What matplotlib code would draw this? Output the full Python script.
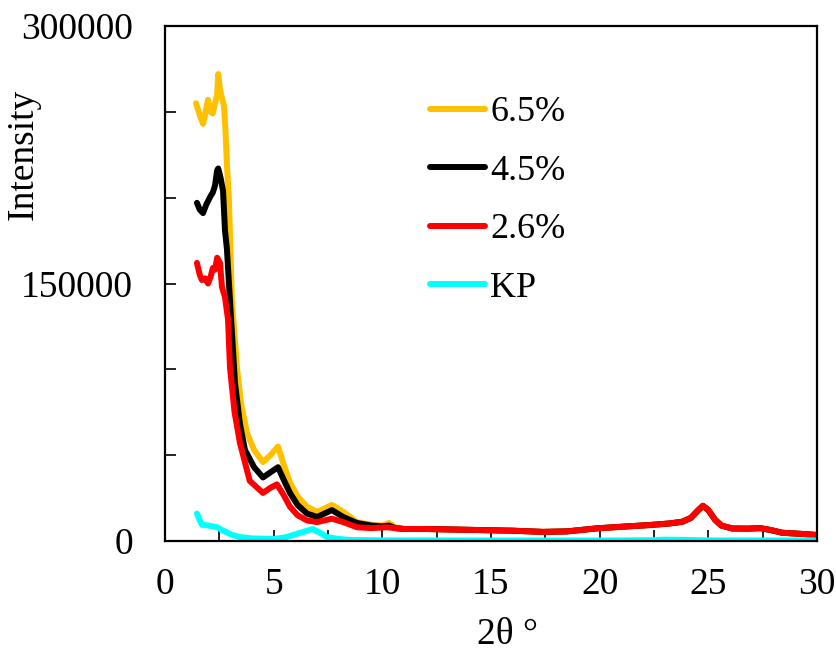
import numpy as np
import matplotlib.pyplot as plt
from matplotlib.ticker import MultipleLocator

# shared tail (x >= 11), all three coated samples overlap here
tail_x = [11, 12, 14, 16, 17.4, 18.5, 19.9, 21, 22.3, 23.2, 23.8, 24.2, 24.5, 24.75, 25.0, 25.3, 25.6, 26.1, 26.8, 27.4, 27.9, 28.4, 29.2, 30]
tail_y = [7, 7, 6.5, 6, 5.3, 5.6, 7.4, 8.3, 9.3, 10.2, 11.2, 13.5, 17.5, 20.5, 18, 12.5, 9, 7.3, 7.2, 7.5, 6.3, 4.8, 4.2, 3.5]

x65 = [1.43, 1.6, 1.75, 1.9, 1.98, 2.1, 2.2, 2.3, 2.4, 2.45, 2.53, 2.62, 2.71, 2.78, 2.85, 2.94, 3.08, 3.31, 3.5, 3.77, 4.1, 4.51, 4.85, 5.2, 5.45, 5.75, 6.1, 6.53, 7.0, 7.68, 8.2, 8.83, 9.5, 10.0, 10.3, 10.6]
y65 = [255, 248, 243, 252, 257, 250, 249, 255, 260, 272, 263, 258, 254, 240, 219, 199, 140, 101, 80, 63, 53, 46, 50, 55, 45, 34, 26, 20, 17, 21, 17, 11, 9.5, 9, 10.5, 8]

x45 = [1.47, 1.6, 1.75, 1.9, 1.98, 2.1, 2.2, 2.3, 2.4, 2.45, 2.55, 2.67, 2.76, 2.85, 2.99, 3.22, 3.45, 3.68, 4.1, 4.51, 4.85, 5.2, 5.45, 5.75, 6.1, 6.53, 7.0, 7.68, 8.2, 8.83, 9.5, 10.0, 10.3, 10.6]
y45 = [197, 193, 191, 196, 198, 201, 203, 207, 216, 217, 212, 204, 181, 170, 140, 92, 68, 53, 43, 37, 40, 43, 36, 28, 21, 16, 14, 18, 14, 10.5, 9, 8.5, 9, 7.5]

x26 = [1.47, 1.6, 1.7, 1.85, 1.98, 2.1, 2.2, 2.3, 2.4, 2.53, 2.62, 2.76, 2.9, 2.99, 3.2, 3.45, 3.9, 4.51, 4.85, 5.15, 5.45, 5.75, 6.1, 6.53, 7.0, 7.68, 8.2, 8.83, 9.5, 10.2, 10.6]
y26 = [162, 155, 152, 153, 150, 154, 159, 158, 165, 162, 148, 142, 129, 101, 75, 57, 35, 28, 31, 33, 27, 20, 15, 12, 11, 13, 11, 8, 7.5, 8, 7.5]

xkp = [1.47, 1.6, 1.7, 2.0, 2.4, 2.6, 2.85, 3.1, 3.45, 4, 5, 5.5, 5.9, 6.4, 6.8, 7.1, 7.45, 8, 8.5, 10, 15, 20, 22.5, 23, 25, 30]
ykp = [16, 12, 9.5, 9, 8, 6.5, 5, 3.5, 2.3, 1.5, 1.2, 2, 3.5, 5.5, 7, 5, 2.3, 1.2, 0.6, 0.4, 0.3, 0.3, 0.5, 0.8, 0.4, 0.3]

labels = ["6.5%", "4.5%", "2.6%", "KP"]
colors = ["#FFC000", "#000000", "#FF0000", "#00FFFF"]

plt.rcParams['font.family'] = ['Liberation Serif', 'DejaVu Serif']

fig = plt.figure(figsize=(8.37, 6.55), dpi=100)
ax = fig.add_axes([165 / 837, 1 - 541 / 655, 652 / 837, 515 / 655])

series = [(x65, y65), (x45, y45), (x26, y26)]
for (xs, ys), lab, c in zip(series, labels[:3], colors[:3]):
    xx = np.array(xs + tail_x)
    yy = np.array(ys + tail_y) * 1000
    ax.plot(xx, yy, color=c, lw=4.3, label=lab, solid_capstyle='round', solid_joinstyle='round')
ax.plot(xkp, np.array(ykp) * 1000, color=colors[3], lw=4.3, label=labels[3],
        solid_capstyle='round', solid_joinstyle='round')

ax.set_xlim(0, 30)
ax.set_ylim(0, 300000)
ax.xaxis.set_major_locator(MultipleLocator(5))
ax.xaxis.set_minor_locator(MultipleLocator(2.5))
ax.yaxis.set_major_locator(MultipleLocator(150000))
ax.yaxis.set_minor_locator(MultipleLocator(50000))
ax.tick_params(which='both', direction='in', length=8, width=1.2, labelsize=27)
ax.tick_params(axis='x', pad=19)
ax.tick_params(axis='y', pad=23)
for s in ax.spines.values():
    s.set_linewidth(1.6)

ax.set_xlabel("2θ °", fontsize=27)
ax.set_ylabel("Intensity", fontsize=27)
ax.xaxis.set_label_coords(0.526, -0.148)
ax.yaxis.set_label_coords(-0.19, 0.75)

ax.legend(loc='upper left', bbox_to_anchor=(0.385, 0.892), frameon=False, fontsize=26,
          handlelength=1.5, handletextpad=0.15, labelspacing=0.7, borderaxespad=0)

fig.savefig("out.png", dpi=100)
